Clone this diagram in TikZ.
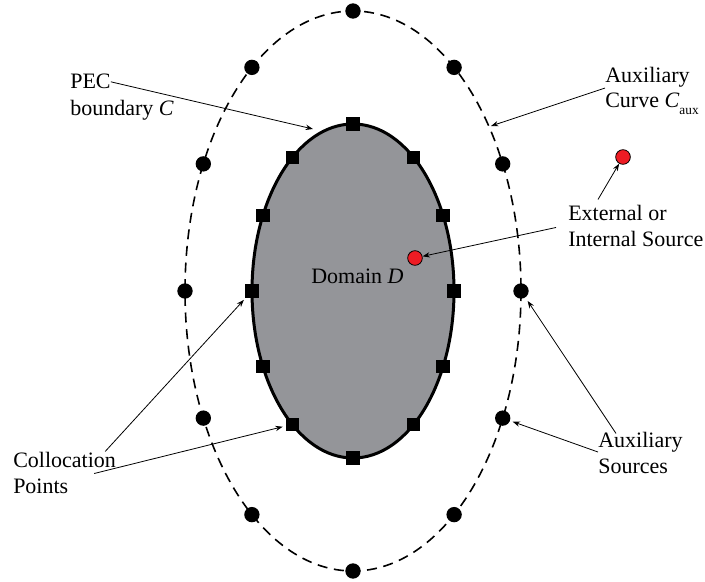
\documentclass[tikz,border=0pt]{standalone}
\usepackage{fontspec}
\setmainfont{Liberation Serif}
\usetikzlibrary{arrows.meta,calc}

\begin{document}
\begin{tikzpicture}[x=0.75pt,y=0.75pt,yscale=-1,
  lbl/.style={anchor=base west,inner sep=0pt,font=\fontsize{16.5}{19.5}\selectfont},
  cpt/.style={fill=black,minimum size=10pt,inner sep=0pt},
  auxdot/.style={circle,fill=black,minimum size=11.5pt,inner sep=0pt},
  srcdot/.style={circle,draw=black,line width=0.6pt,fill={rgb, 255:red, 237; green, 28; blue, 36},minimum size=11pt,inner sep=0pt},
  pointer/.style={line width=0.6pt,-{Stealth[length=5.5pt,width=4pt]}}]
\useasboundingbox (0,0) rectangle (705,581);

%Shape: Ellipse (domain D)
\draw [line width=2.25pt, fill={rgb, 255:red, 148; green, 149; blue, 153}] (353,291) ellipse [x radius=101, y radius=167];
%Shape: Ellipse (auxiliary curve)
\draw [line width=1.2pt, dash pattern=on 7.5pt off 5pt] (353,291) ellipse [x radius=168, y radius=280];

%collocation points and auxiliary sources
\foreach \a in {0,27,53,90,127,153,180,207,233,270,307,333}{
  \node [cpt] (cp\a) at ({353+101*cos(\a)},{291-167*sin(\a)}) {};
  \node [auxdot] (as\a) at ({353+168*cos(\a)},{291-280*sin(\a)}) {};
}

%Shape: Circle (sources)
\node [srcdot] (srcout) at (623,157) {};
\node [srcdot] (srcin) at (415,258) {};

%Labels
\node [lbl] (pec1) at (70,89) {PEC};
\node [lbl] (pec2) at (70,116) {boundary \textit{C}};
\node [lbl] (curve1) at (605,83) {Auxiliary};
\node [lbl] (curve2) at (605,108) {Curve \textit{C}\raisebox{-5pt}{\fontsize{10}{10}\selectfont aux}};
\node [lbl] (ext1) at (568,220) {External or};
\node [lbl] (ext2) at (568,246) {Internal Source};
\node [lbl] (coll1) at (13,467) {Collocation};
\node [lbl] (coll2) at (13,493) {Points};
\node [lbl] (srcs1) at (598,447) {Auxiliary};
\node [lbl] (srcs2) at (598,473) {Sources};
\node [lbl] (dom) at (311,283) {Domain \textit{D}};

\coordinate (pectip) at (313,129);
\coordinate (curvetip) at (491,126);

%Straight Lines
\draw [pointer] (pec1.east) -- (pectip);
\draw [pointer] (curve1.south west) -- (curvetip);
\draw [pointer] ($(ext1.north west)+(30,-5)$) -- (srcout);
\draw [pointer] ($(ext1.south west)+(-12,7)$) -- (srcin);
\draw [pointer, shorten >=2pt] ($(coll1.north east)+(-11,0)$) -- (cp180);
\draw [pointer, shorten >=2pt] ($(coll1.south east)+(-22,6)$) -- (cp233);
\draw [pointer, shorten >=3pt] ($(srcs1.north west)+(18,2)$) -- (as0);
\draw [pointer, shorten >=2pt] (srcs1.south west) -- (as333);

\end{tikzpicture}
\end{document}
